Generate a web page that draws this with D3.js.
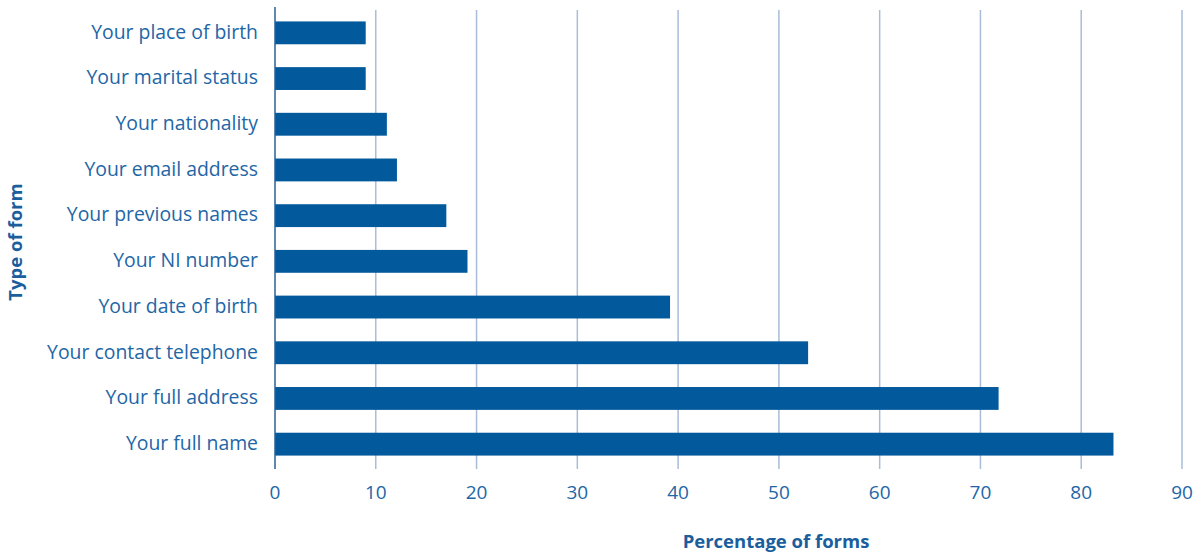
<!DOCTYPE html>
<html><head><meta charset="utf-8">
<script src="https://cdn.jsdelivr.net/npm/d3@7"></script>
<style>body{margin:0;background:#fff;} svg{display:block;}</style>
</head><body>
<svg id="c" width="1202" height="559"></svg>
<script>
const categories = ["Your place of birth","Your marital status","Your nationality","Your email address","Your previous names","Your NI number","Your date of birth","Your contact telephone","Your full address","Your full name"];
const values = [9.0, 9.0, 11.1, 12.1, 17.0, 19.1, 39.2, 52.9, 71.8, 83.2];
const xTicks = [0,10,20,30,40,50,60,70,80,90];
const xTitle = "Percentage of forms";
const yTitle = "Type of form";

const svg = d3.select("#c");
const font = "'Open Sans', sans-serif";
const x = d3.scaleLinear().domain([0,90]).range([275,1182]);
const y = d3.scaleBand().domain(categories).range([10,467]).paddingInner(0.5).paddingOuter(0.25);

// gridlines
svg.append("g").selectAll("line").data(xTicks.slice(1)).join("line")
  .attr("x1",d=>x(d)).attr("x2",d=>x(d)).attr("y1",10).attr("y2",469)
  .attr("stroke","#a9bcd8").attr("stroke-width",1.5);

// bars
svg.append("g").selectAll("rect").data(values).join("rect")
  .attr("x",x(0)).attr("y",(d,i)=>y(categories[i]))
  .attr("width",d=>x(d)-x(0)).attr("height",y.bandwidth())
  .attr("fill","#02599c");

// y axis line
svg.append("line").attr("x1",x(0)).attr("x2",x(0)).attr("y1",7).attr("y2",469)
  .attr("stroke","#2a5f95").attr("stroke-width",1.5);

// category labels
svg.append("g").selectAll("text").data(categories).join("text")
  .attr("x",258).attr("y",d=>y(d)+y.bandwidth()/2 - 1).attr("dy","0.35em")
  .attr("text-anchor","end").attr("font-family",font).attr("font-size",19.4)
  .attr("fill","#2266a6").text(d=>d);

// x tick labels
svg.append("g").selectAll("text").data(xTicks).join("text")
  .attr("x",d=>x(d)).attr("y",499).attr("text-anchor","middle")
  .attr("font-family",font).attr("font-size",19).attr("fill","#2266a6").text(d=>d);

// titles
svg.append("text").attr("x",776).attr("y",548).attr("text-anchor","middle")
  .attr("font-family",font).attr("font-weight","bold").attr("font-size",18.5)
  .attr("fill","#1a5e9e").text(xTitle);
svg.append("text").attr("transform","translate(22,242) rotate(-90)").attr("text-anchor","middle")
  .attr("font-family",font).attr("font-weight","bold").attr("font-size",18.5)
  .attr("fill","#1a5e9e").text(yTitle);
</script>
</body></html>
